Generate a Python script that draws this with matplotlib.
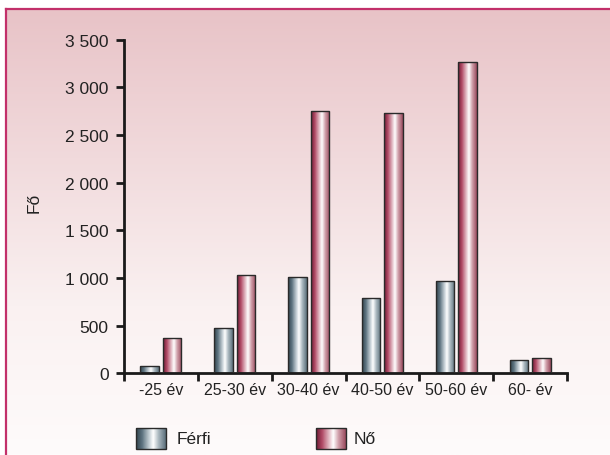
import numpy as np
import matplotlib
matplotlib.use("Agg")
import matplotlib.pyplot as plt
from matplotlib.colors import LinearSegmentedColormap
from matplotlib.patches import Rectangle
from matplotlib.lines import Line2D

categories = ["-25 év", "25-30 év", "30-40 év", "40-50 év", "50-60 év", "60- év"]
ferfi = [80, 478, 1007, 787, 965, 137]
no = [370, 1031, 2749, 2728, 3263, 161]
yticks = [0, 500, 1000, 1500, 2000, 2500, 3000, 3500]
series_names = ["Férfi", "Nő"]

plt.rcParams['font.family'] = ['Liberation Sans', 'DejaVu Sans']

W, H = 610, 456
fig = plt.figure(figsize=(W / 100, H / 100), dpi=100)

# background gradient
bg = fig.add_axes([6 / W, 0, 1 - 6 / W, 1 - 10 / H], zorder=-10)
grad = np.linspace(0, 1, 256).reshape(-1, 1)
bg_cmap = LinearSegmentedColormap.from_list("bg", ["#e8c3c7", "#f1dadc", "#faf1f1", "#fefbfb"])
bg.imshow(grad, aspect='auto', cmap=bg_cmap, extent=[0, 1, 0, 1], origin='upper')
bg.set_axis_off()
fig.add_artist(Line2D([6 / W, 1], [1 - 10 / H, 1 - 10 / H], color="#c2306a", lw=1.6))
fig.add_artist(Line2D([6 / W, 6 / W], [0, 1 - 10 / H], color="#c2306a", lw=1.6))

ax = fig.add_axes([124 / W, 1 - 374.3 / H, (567 - 124) / W, (374.3 - 40.7) / H])
ax.patch.set_alpha(0)

x = np.arange(len(categories))
bw = 0.25
off = 0.152
b1 = ax.bar(x - off, ferfi, bw, color='none', edgecolor='#2a2a2a', linewidth=1.0, zorder=3)
b2 = ax.bar(x + off, no, bw, color='none', edgecolor='#2a2a2a', linewidth=1.0, zorder=3)

cm_f = LinearSegmentedColormap.from_list("f", [(0, "#33454e"), (0.2, "#5d7380"), (0.45, "#c9d3d8"),
                                               (0.58, "#ffffff"), (0.75, "#aebbc2"), (1, "#5c707c")])
cm_n = LinearSegmentedColormap.from_list("n", [(0, "#6e1c34"), (0.2, "#b14a66"), (0.45, "#e6c3cb"),
                                               (0.58, "#ffffff"), (0.75, "#d2a3ad"), (1, "#9a4a5e")])
hgrad = np.linspace(0, 1, 64).reshape(1, -1)
for bars, cm in ((b1, cm_f), (b2, cm_n)):
    for r in bars:
        x0, y0, w, h = r.get_x(), r.get_y(), r.get_width(), r.get_height()
        im = ax.imshow(hgrad, aspect='auto', cmap=cm, extent=[x0, x0 + w, y0, y0 + h],
                       zorder=2, interpolation='bilinear')
        im.set_clip_path(r)

ax.set_xlim(-0.5, len(categories) - 0.5)
ax.set_ylim(0, 3500)
ax.set_yticks(yticks)
ax.set_yticklabels([f"{v:,}".replace(",", " ") for v in yticks], fontsize=12.5, color="#222222")
ax.set_xticks(np.arange(-0.5, len(categories), 1.0))
ax.set_xticklabels([])
ax.set_xticks(x, minor=True)
ax.set_xticklabels(categories, minor=True, fontsize=11.5, color="#222222")
ax.tick_params(axis='x', which='minor', length=0, pad=6)
ax.tick_params(axis='x', which='major', length=6, width=2, color="#1a1a1a", direction='out')
ax.tick_params(axis='y', length=6, width=2, color="#1a1a1a", direction='out', pad=5)
for s in ('top', 'right'):
    ax.spines[s].set_visible(False)
for s in ('left', 'bottom'):
    ax.spines[s].set_linewidth(2)
    ax.spines[s].set_color("#1a1a1a")
ax.set_ylabel("Fő", fontsize=12.5, color="#222222")
ax.yaxis.set_label_coords((34 - 124) / (567 - 124), (374.3 - 203) / (374.3 - 40.7))
ax.yaxis.label.set_va('center')
ax.set_xlim(-0.5, len(categories) - 0.5)

# legend
lg = fig.add_axes([0, 0, 1, 1], zorder=5)
lg.set_xlim(0, W)
lg.set_ylim(H, 0)
lg.set_axis_off()
for (x0, tx, name, cm) in ((136, 177, series_names[0], cm_f), (316, 354, series_names[1], cm_n)):
    rect = Rectangle((x0, 429), 30, 21, facecolor='none', edgecolor='#2a2a2a', lw=1.0, zorder=3)
    lg.add_patch(rect)
    im = lg.imshow(hgrad, aspect='auto', cmap=cm, extent=[x0, x0 + 30, 450, 429], zorder=2)
    im.set_clip_path(rect)
    lg.text(tx, 439.5, name, fontsize=12.5, va='center', ha='left', color="#222222")
lg.set_xlim(0, W)
lg.set_ylim(H, 0)

fig.savefig("out.png", dpi=100)
